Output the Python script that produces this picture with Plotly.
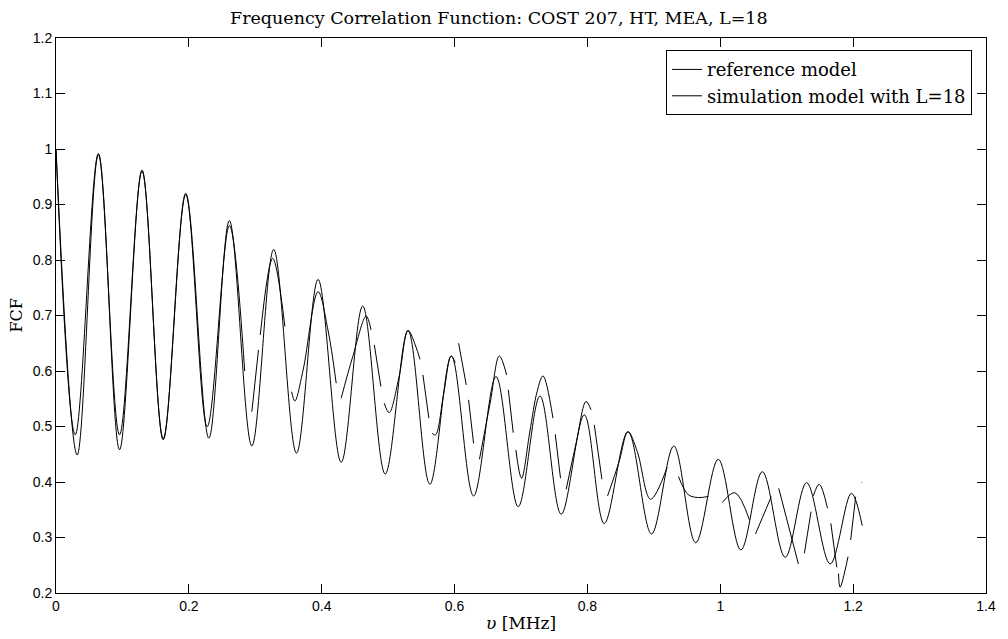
import plotly.graph_objects as go

# ---- data ----
ref_v = [0, 0.029, 0.0638, 0.0956, 0.1295, 0.1614, 0.1953, 0.2301, 0.261, 0.2948,
         0.3277, 0.362, 0.3945, 0.4293, 0.4617, 0.4956, 0.5299, 0.5628, 0.5952, 0.6286,
         0.6624, 0.6958, 0.7286, 0.7605, 0.7953, 0.8253, 0.8611, 0.8965, 0.93, 0.963,
         0.997, 1.031, 1.0633, 1.0977, 1.130, 1.1654, 1.1973, 1.2137]
ref_fcf = [1.0, 0.485, 0.992, 0.458, 0.962, 0.476, 0.920, 0.479, 0.871, 0.465,
           0.819, 0.452, 0.765, 0.4355, 0.717, 0.4144, 0.673, 0.3959, 0.627, 0.3748,
           0.590, 0.3555, 0.555, 0.342, 0.521, 0.325, 0.4906, 0.3063, 0.4649, 0.2906,
           0.441, 0.2775, 0.4186, 0.2643, 0.3988, 0.2523, 0.3796, 0.3213]

# simulation model: broken pieces, separated by None
sim_v = [0, 0.0319, 0.0638, 0.0956, 0.1295, 0.1614, 0.1953, 0.2276, 0.261, 0.284, None,
         0.2948, 0.3048, None,
         0.3075, 0.3262, 0.3446, None,
         0.3547, 0.3596, 0.372, 0.3945, 0.4094, 0.4218, None,
         0.4293, 0.4467, 0.467, 0.4742, None,
         0.4792, 0.4891, None,
         0.4941, 0.5016, 0.5165, 0.530, 0.5414, 0.5479, None,
         0.5524, 0.5613, None,
         0.5663, 0.5713, 0.5837, 0.5947, 0.601, None,
         0.6061, 0.6176, None,
         0.6211, 0.6286, None,
         0.6375, 0.6535, 0.6674, 0.6784, None,
         0.6809, 0.6883, None,
         0.6923, 0.7008, 0.7132, 0.7242, 0.7331, 0.7481, None,
         0.7516, 0.7595, None,
         0.768, 0.783, 0.7979, 0.8054, None,
         0.8103, 0.8218, None,
         0.8303, 0.8477, 0.8611, 0.875, 0.895, 0.92, None,
         0.937, 0.952, 0.967, 0.982, None,
         1.003, 1.022, 1.044, None,
         1.053, 1.0767, None,
         1.088, 1.1176, None,
         1.1266, 1.1366, None,
         1.140, 1.149, 1.1614, None,
         1.1664, 1.1754, None,
         1.178, 1.1803, 1.1923, None,
         1.1963, 1.2038, None,
         1.2125, 1.2131]
sim_fcf = [1.0, 0.4486, 0.990, 0.485, 0.960, 0.478, 0.918, 0.4997, 0.862, 0.60, None,
           0.5267, 0.638, None,
           0.665, 0.803, 0.68, None,
           0.5628, 0.546, 0.6018, 0.743, 0.674, 0.578, None,
           0.551, 0.626, 0.699, 0.674, None,
           0.647, 0.572, None,
           0.542, 0.525, 0.59, 0.673, 0.645, 0.621, None,
           0.593, 0.515, None,
           0.4877, 0.4847, 0.56, 0.627, 0.615, None,
           0.650, 0.575, None,
           0.548, 0.4697, None,
           0.4409, 0.542, 0.627, 0.593, None,
           0.566, 0.4889, None,
           0.4577, 0.4067, 0.49, 0.5627, 0.5911, 0.515, None,
           0.4859, 0.4067, None,
           0.3868, 0.47, 0.545, 0.53, None,
           0.503, 0.4049, None,
           0.3748, 0.4367, 0.4906, 0.455, 0.369, 0.4265, None,
           0.41, 0.377, 0.372, 0.374, None,
           0.363, 0.3807, 0.3315, None,
           0.3063, 0.3735, None,
           0.3886, 0.2523, None,
           0.2715, 0.3465, None,
           0.375, 0.396, 0.3526, None,
           0.3256, 0.2463, None,
           0.235, 0.2103, 0.2654, None,
           0.2955, 0.3735, None,
           0.3985, 0.3995]

x_ticks = [0, 0.2, 0.4, 0.6, 0.8, 1.0, 1.2, 1.4]
x_labels = ["0", "0.2", "0.4", "0.6", "0.8", "1", "1.2", "1.4"]
y_ticks = [0.2, 0.3, 0.4, 0.5, 0.6, 0.7, 0.8, 0.9, 1.0, 1.1, 1.2]
y_labels = ["0.2", "0.3", "0.4", "0.5", "0.6", "0.7", "0.8", "0.9", "1", "1.1", "1.2"]

title_text = "Frequency Correlation Function: COST 207, HT, MEA, L=18"
serif = "DejaVu Serif"
sans = "Liberation Sans, Arial, sans-serif"

fig = go.Figure()
fig.add_trace(go.Scatter(x=ref_v, y=ref_fcf, mode="lines", name="reference model",
                         line=dict(color="black", width=1.0, shape="spline", smoothing=1.0)))
fig.add_trace(go.Scatter(x=sim_v, y=sim_fcf, mode="lines", name="simulation model with L=18",
                         connectgaps=False,
                         line=dict(color="black", width=1.0, shape="spline", smoothing=1.0)))

axis_common = dict(showline=True, linecolor="black", linewidth=1, mirror="ticks",
                   ticks="inside", ticklen=9, tickcolor="black", tickwidth=1,
                   showgrid=False, zeroline=False,
                   tickfont=dict(family=sans, size=14, color="black"))

fig.update_layout(
    width=1008, height=639,
    margin=dict(l=56, r=15, t=38, b=46),
    paper_bgcolor="white", plot_bgcolor="white",
    xaxis=dict(range=[0, 1.4], tickvals=x_ticks, ticktext=x_labels, **axis_common),
    yaxis=dict(range=[0.2, 1.2], tickvals=y_ticks, ticktext=y_labels, **axis_common),
    legend=dict(x=0.985, y=0.978, xanchor="right", yanchor="top",
                bgcolor="white", bordercolor="black", borderwidth=1,
                font=dict(family=serif, size=18, color="black"),
                itemwidth=30, tracegroupgap=0),
    showlegend=True,
    annotations=[
        dict(text=title_text, xref="paper", yref="paper", x=0.4765, y=1.0, yshift=8,
             xanchor="center", yanchor="bottom", showarrow=False,
             font=dict(family=serif, size=17.5, color="black")),
        dict(text="<i>υ</i> [MHz]", xref="paper", yref="paper", x=0.5, y=0, yshift=-18,
             xanchor="center", yanchor="top", showarrow=False,
             font=dict(family=serif, size=17, color="black")),
        dict(text="FCF", xref="paper", yref="paper", x=0, xshift=-40, y=0.5,
             xanchor="center", yanchor="middle", textangle=-90, showarrow=False,
             font=dict(family=serif, size=16, color="black")),
    ],
)

fig.write_html("out.html", config={"displayModeBar": False},
               post_script="document.body.style.margin='0px';")
